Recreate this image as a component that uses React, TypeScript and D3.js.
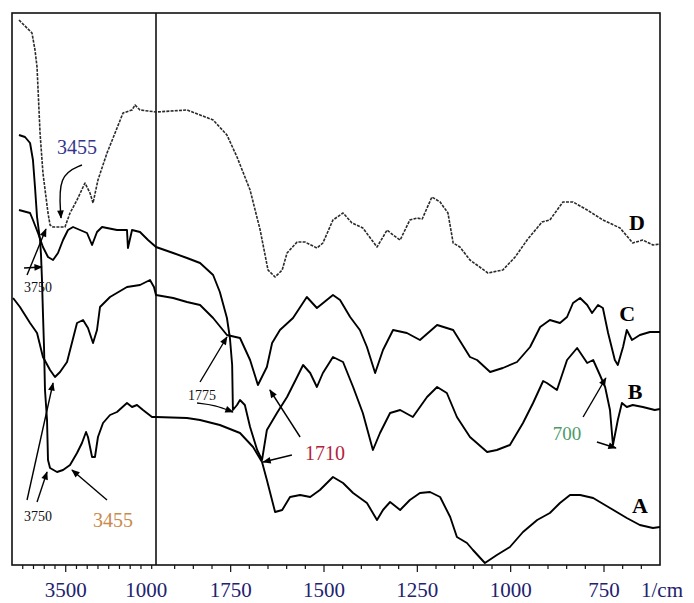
import React from "react";
import * as d3 from "d3";

// Wavenumber (1/cm), relative transmittance (arbitrary units)
const seriesD: [number, number][] = [
  [3935,545],[3814,532],[3786,515],[3767,498],[3739,432],[3712,392],[3665,352],[3646,340],[3618,338],[3507,338],[3460,352],[3395,365],[3321,382],[3274,372],[3246,362],[3200,385],[3116,412],[3041,432],[2967,452],[2883,455],[2855,460],[2809,455],[2660,453],
  [1950,453],[1867,455],[1832,450],[1797,445],[1760,430],[1733,408],[1698,375],[1671,335],[1650,295],[1631,288],[1612,295],[1599,312],[1572,323],[1551,323],[1519,317],[1503,322],[1476,345],[1449,352],[1425,342],[1396,337],[1358,318],[1342,328],[1331,335],[1315,330],[1296,325],[1270,345],[1251,347],[1237,346],[1211,368],[1189,363],[1168,352],[1154,322],[1136,318],[1109,305],[1061,292],[1021,295],[988,308],[956,325],[916,343],[895,345],[860,363],[833,363],[795,355],[753,345],[707,337],[673,322],[646,325],[619,320],[600,321]
];

const seriesC: [number, number][] = [
  [3990,267],[3926,258],[3832,242],[3767,232],[3712,208],[3646,195],[3600,188],[3553,193],[3488,203],[3395,242],[3339,245],[3293,237],[3246,222],[3209,235],[3181,258],[3088,268],[2930,278],[2809,280],[2716,285],[2679,278],[2660,270],
  [1950,270],[1904,267],[1867,263],[1832,260],[1797,247],[1760,230],[1725,227],[1698,205],[1677,180],[1653,198],[1639,222],[1618,235],[1583,247],[1546,268],[1519,257],[1476,270],[1457,265],[1430,248],[1404,235],[1385,218],[1363,192],[1342,215],[1315,235],[1278,232],[1243,225],[1197,240],[1154,235],[1109,208],[1090,205],[1055,193],[1021,197],[983,203],[948,218],[921,238],[895,245],[868,242],[849,248],[833,262],[814,267],[795,260],[782,252],[766,260],[753,257],[739,232],[721,205],[713,200],[699,218],[689,235],[675,225],[654,230],[627,233],[600,233]
];

const seriesB: [number, number][] = [
  [3935,355],[3832,352],[3805,345],[3758,332],[3712,318],[3665,308],[3618,305],[3572,312],[3525,325],[3479,335],[3432,338],[3367,335],[3302,332],[3255,320],[3209,333],[3162,338],[3116,337],[3023,335],[2930,335],[2921,317],[2883,335],[2809,333],[2734,325],[2660,318],
  [1950,318],[1904,312],[1867,307],[1832,302],[1797,290],[1779,273],[1760,247],[1752,227],[1746,200],[1744,155],[1733,160],[1725,165],[1712,160],[1698,138],[1679,115],[1666,105],[1653,135],[1626,152],[1599,168],[1572,188],[1556,200],[1537,192],[1519,178],[1503,192],[1476,208],[1449,203],[1422,178],[1396,152],[1369,115],[1350,132],[1323,152],[1296,155],[1262,148],[1224,168],[1197,178],[1171,172],[1144,148],[1109,128],[1063,113],[1037,115],[1002,120],[967,142],[940,162],[913,184],[903,182],[876,175],[849,205],[822,217],[795,202],[779,205],[761,190],[747,178],[734,155],[726,120],[713,145],[702,162],[689,158],[673,160],[646,158],[614,155],[600,156]
];

const seriesA: [number, number][] = [
  [3935,430],[3879,428],[3832,422],[3805,405],[3786,378],[3767,348],[3739,325],[3730,310],[3721,285],[3712,252],[3702,218],[3693,175],[3674,145],[3665,105],[3646,97],[3581,93],[3525,95],[3460,100],[3395,112],[3349,122],[3311,133],[3293,128],[3255,108],[3228,108],[3200,128],[3153,142],[3088,150],[3023,153],[2930,162],[2883,158],[2837,160],[2781,155],[2697,148],[2660,148],
  [1950,148],[1867,147],[1832,145],[1779,140],[1725,132],[1690,118],[1666,103],[1653,85],[1631,53],[1612,55],[1591,68],[1564,70],[1537,68],[1511,75],[1476,88],[1449,82],[1422,72],[1385,62],[1358,45],[1342,55],[1323,63],[1296,55],[1270,65],[1243,72],[1216,73],[1189,68],[1162,48],[1144,28],[1117,22],[1101,15],[1069,2],[1037,10],[1002,18],[967,33],[929,45],[895,52],[868,62],[841,70],[814,70],[779,67],[734,57],[689,47],[654,40],[619,37],[600,38]
];

const seriesNames = ["D", "C", "B", "A"];
const seriesLabelPos: [number, number][] = [[662, 343], [688, 252], [667, 174], [654, 60]];

const leftTicks = d3.range(3900, 2699, -100);
const rightTicks = d3.range(1900, 649, -50);
const tickLabelValues = [3500, 2750, 1750, 1500, 1250, 1000, 750];
const tickLabelTexts = ["3500", "1000", "1750", "1500", "1250", "1000", "750"];
const unitLabel = "1/cm";

const annotationTexts = [
  { t: "3455", w: 3395, v: 411, color: "#34348c", size: 20 },
  { t: "3750", w: 3758, v: 273, color: "#111", size: 14 },
  { t: "3750", w: 3758, v: 44, color: "#111", size: 14 },
  { t: "3455", w: 3060, v: 38, color: "#c98a4b", size: 20 },
  { t: "1775", w: 1827, v: 165, color: "#111", size: 14 },
  { t: "1710", w: 1497, v: 105, color: "#b3243d", size: 20 },
  { t: "700", w: 849, v: 125, color: "#4c9a6a", size: 19 },
];

const arrows: [number, number][][] = [
  [[3349, 400], [3572, 390], [3544, 347]],
  [[3860, 290], [3684, 336]],
  [[3888, 297], [3721, 298]],
  [[3860, 65], [3618, 182]],
  [[3767, 63], [3674, 93]],
  [[3116, 65], [3442, 95]],
  [[1832, 183], [1760, 228]],
  [[1840, 162], [1792, 160], [1744, 153]],
  [[1586, 110], [1663, 103]],
  [[1564, 128], [1645, 175]],
  [[806, 148], [745, 187]],
  [[769, 123], [718, 117]],
];

const W = 694, H = 603;
const X0 = 12, XB = 156, X1 = 660, Y0 = 13, Y1 = 565;

export default function App() {
  const xLeft = d3.scaleLinear().domain([4000, 2660]).range([X0, XB]);
  const xRight = d3.scaleLinear().domain([1950, 600]).range([XB, X1]);
  const xPos = (w: number) => (w > 2000 ? xLeft(w) : xRight(w));
  const y = d3.scaleLinear().domain([0, 552]).range([Y1, Y0]);

  const line = d3.line<[number, number]>().x(d => xPos(d[0])).y(d => y(d[1]));
  const curved = d3.line<[number, number]>().x(d => xPos(d[0])).y(d => y(d[1])).curve(d3.curveBasis);

  const all = [seriesD, seriesC, seriesB, seriesA];
  const serif = "'Liberation Serif', 'DejaVu Serif', serif";

  return (
    <svg width={W} height={H} style={{ position: "absolute", left: 0, top: 0, background: "#fff" }}>
      <defs>
        <marker id="ah" viewBox="0 0 10 10" refX="9" refY="5" markerWidth="7" markerHeight="6" orient="auto">
          <path d="M0,1 L10,5 L0,9 z" fill="#000" />
        </marker>
      </defs>
      <rect x={X0} y={Y0} width={X1 - X0} height={Y1 - Y0} fill="none" stroke="#111" strokeWidth={1.6} />
      <line x1={XB} x2={XB} y1={Y0} y2={Y1} stroke="#111" strokeWidth={1.6} />
      {leftTicks.map(t => (
        <line key={"l" + t} x1={xLeft(t)} x2={xLeft(t)} y1={Y1} y2={Y1 + (t === 3500 ? 7 : 4)} stroke="#111" strokeWidth={1.2} />
      ))}
      {rightTicks.map(t => (
        <line key={"r" + t} x1={xRight(t)} x2={xRight(t)} y1={Y1} y2={Y1 + (t % 250 === 0 ? 7 : 4)} stroke="#111" strokeWidth={1.2} />
      ))}
      {tickLabelValues.map((v, i) => (
        <text key={"tl" + i} x={i < 2 ? xLeft(v) : xRight(v)} y={597} textAnchor="middle" fontFamily={serif} fontSize={21} fill="#22226e">
          {tickLabelTexts[i]}
        </text>
      ))}
      <text x={xRight(600) + 2} y={597} textAnchor="middle" fontFamily={serif} fontSize={21} fill="#22226e">{unitLabel}</text>

      {all.map((s, i) => (
        <path key={"s" + i} d={line(s) || ""} fill="none" stroke={i === 0 ? "#2a2a2a" : "#000"}
          strokeWidth={i === 0 ? 1.6 : 1.9} strokeDasharray={i === 0 ? "3,1.2" : undefined} strokeLinejoin="round" />
      ))}

      {seriesNames.map((n, i) => (
        <text key={"n" + n} x={xRight(seriesLabelPos[i][0])} y={y(seriesLabelPos[i][1])} dominantBaseline="central"
          textAnchor="middle" fontFamily={serif} fontWeight="bold" fontSize={22} fill="#000">{n}</text>
      ))}

      {arrows.map((a, i) => (
        <path key={"a" + i} d={(a.length > 2 ? curved(a) : line(a)) || ""} fill="none" stroke="#000" strokeWidth={1.4} markerEnd="url(#ah)" />
      ))}
      {annotationTexts.map((a, i) => (
        <text key={"at" + i} x={xPos(a.w)} y={y(a.v)} textAnchor="middle" fontFamily={serif} fontSize={a.size} fill={a.color}>{a.t}</text>
      ))}
    </svg>
  );
}
